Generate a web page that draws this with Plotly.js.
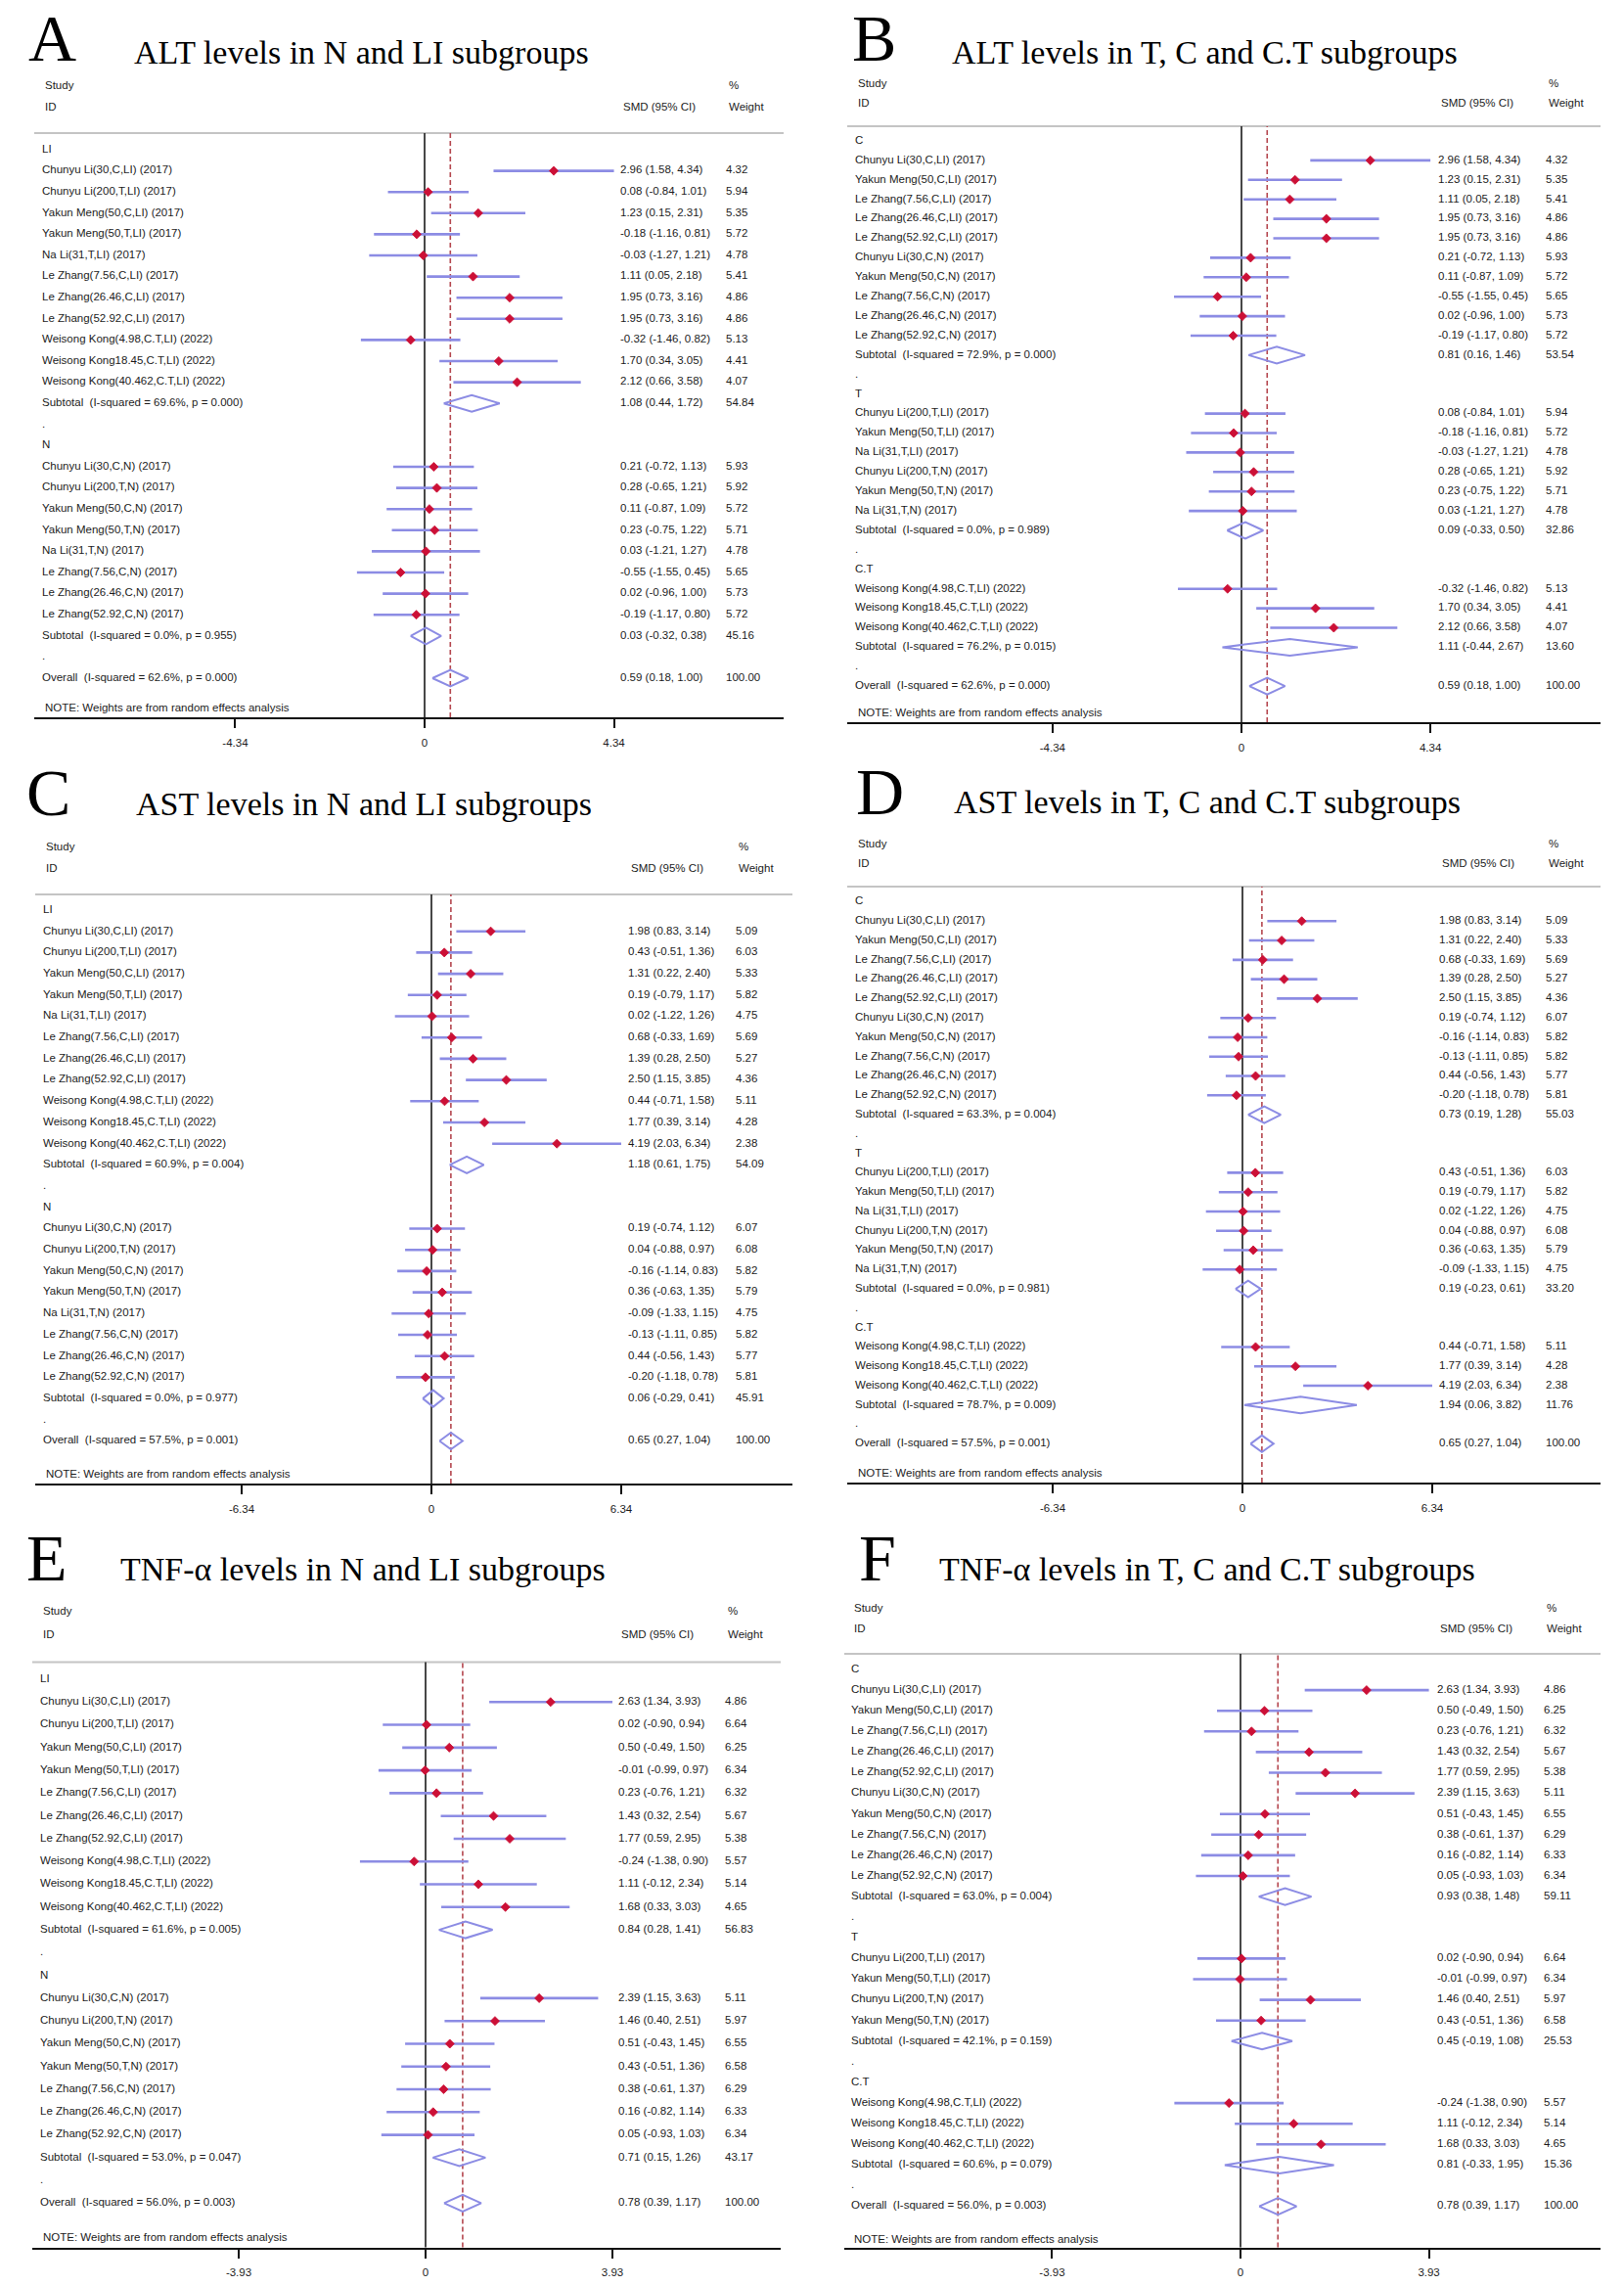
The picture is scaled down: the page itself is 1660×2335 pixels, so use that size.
<!DOCTYPE html>
<html><head><meta charset="utf-8">
<script src="https://cdn.plot.ly/plotly-3.0.1.min.js"></script>
<style>html,body{margin:0;padding:0;background:#fff}</style>
</head><body><div id="chart" style="width:1660px;height:2335px"></div>
<script>
// ================= DATA =================
const STUDY_19 = ["Chunyu Li(30,C,LI) (2017)","Chunyu Li(200,T,LI) (2017)","Yakun Meng(50,C,LI) (2017)","Yakun Meng(50,T,LI) (2017)","Na Li(31,T,LI) (2017)","Le Zhang(7.56,C,LI) (2017)","Le Zhang(26.46,C,LI) (2017)","Le Zhang(52.92,C,LI) (2017)","Weisong Kong(4.98,C.T,LI) (2022)","Weisong Kong18.45,C.T,LI) (2022)","Weisong Kong(40.462,C.T,LI) (2022)","Chunyu Li(30,C,N) (2017)","Chunyu Li(200,T,N) (2017)","Yakun Meng(50,C,N) (2017)","Yakun Meng(50,T,N) (2017)","Na Li(31,T,N) (2017)","Le Zhang(7.56,C,N) (2017)","Le Zhang(26.46,C,N) (2017)","Le Zhang(52.92,C,N) (2017)"];
const LIVER_19 = ["LI","LI","LI","LI","LI","LI","LI","LI","LI","LI","LI","N","N","N","N","N","N","N","N"];
const TREAT_19 = ["C","T","C","T","T","C","C","C","C.T","C.T","C.T","C","T","C","T","T","C","C","C"];

const ALT_est = [2.96,0.08,1.23,-0.18,-0.03,1.11,1.95,1.95,-0.32,1.70,2.12,0.21,0.28,0.11,0.23,0.03,-0.55,0.02,-0.19];
const ALT_lo  = [1.58,-0.84,0.15,-1.16,-1.27,0.05,0.73,0.73,-1.46,0.34,0.66,-0.72,-0.65,-0.87,-0.75,-1.21,-1.55,-0.96,-1.17];
const ALT_hi  = [4.34,1.01,2.31,0.81,1.21,2.18,3.16,3.16,0.82,3.05,3.58,1.13,1.21,1.09,1.22,1.27,0.45,1.00,0.80];
const ALT_wt  = [4.32,5.94,5.35,5.72,4.78,5.41,4.86,4.86,5.13,4.41,4.07,5.93,5.92,5.72,5.71,4.78,5.65,5.73,5.72];
const ALT_overall = [0.59,0.18,1.00,"62.6","0.000"];
const ALT_tick = 4.34;

const AST_est = [1.98,0.43,1.31,0.19,0.02,0.68,1.39,2.50,0.44,1.77,4.19,0.19,0.04,-0.16,0.36,-0.09,-0.13,0.44,-0.20];
const AST_lo  = [0.83,-0.51,0.22,-0.79,-1.22,-0.33,0.28,1.15,-0.71,0.39,2.03,-0.74,-0.88,-1.14,-0.63,-1.33,-1.11,-0.56,-1.18];
const AST_hi  = [3.14,1.36,2.40,1.17,1.26,1.69,2.50,3.85,1.58,3.14,6.34,1.12,0.97,0.83,1.35,1.15,0.85,1.43,0.78];
const AST_wt  = [5.09,6.03,5.33,5.82,4.75,5.69,5.27,4.36,5.11,4.28,2.38,6.07,6.08,5.82,5.79,4.75,5.82,5.77,5.81];
const AST_overall = [0.65,0.27,1.04,"57.5","0.001"];
const AST_tick = 6.34;

const STUDY_17 = ["Chunyu Li(30,C,LI) (2017)","Chunyu Li(200,T,LI) (2017)","Yakun Meng(50,C,LI) (2017)","Yakun Meng(50,T,LI) (2017)","Le Zhang(7.56,C,LI) (2017)","Le Zhang(26.46,C,LI) (2017)","Le Zhang(52.92,C,LI) (2017)","Weisong Kong(4.98,C.T,LI) (2022)","Weisong Kong18.45,C.T,LI) (2022)","Weisong Kong(40.462,C.T,LI) (2022)","Chunyu Li(30,C,N) (2017)","Chunyu Li(200,T,N) (2017)","Yakun Meng(50,C,N) (2017)","Yakun Meng(50,T,N) (2017)","Le Zhang(7.56,C,N) (2017)","Le Zhang(26.46,C,N) (2017)","Le Zhang(52.92,C,N) (2017)"];
const LIVER_17 = ["LI","LI","LI","LI","LI","LI","LI","LI","LI","LI","N","N","N","N","N","N","N"];
const TREAT_17 = ["C","T","C","T","C","C","C","C.T","C.T","C.T","C","T","C","T","C","C","C"];
const TNF_est = [2.63,0.02,0.50,-0.01,0.23,1.43,1.77,-0.24,1.11,1.68,2.39,1.46,0.51,0.43,0.38,0.16,0.05];
const TNF_lo  = [1.34,-0.90,-0.49,-0.99,-0.76,0.32,0.59,-1.38,-0.12,0.33,1.15,0.40,-0.43,-0.51,-0.61,-0.82,-0.93];
const TNF_hi  = [3.93,0.94,1.50,0.97,1.21,2.54,2.95,0.90,2.34,3.03,3.63,2.51,1.45,1.36,1.37,1.14,1.03];
const TNF_wt  = [4.86,6.64,6.25,6.34,6.32,5.67,5.38,5.57,5.14,4.65,5.11,5.97,6.55,6.58,6.29,6.33,6.34];
const TNF_overall = [0.78,0.39,1.17,"56.0","0.003"];
const TNF_tick = 3.93;

// subgroup summaries
const A_groups = ["LI","N"];
const A_sub_est = [1.08,0.03], A_sub_lo = [0.44,-0.32], A_sub_hi = [1.72,0.38], A_sub_wt = [54.84,45.16];
const A_sub_isq = ["69.6","0.0"], A_sub_p = ["0.000","0.955"];

const B_groups = ["C","T","C.T"];
const B_sub_est = [0.81,0.09,1.11], B_sub_lo = [0.16,-0.33,-0.44], B_sub_hi = [1.46,0.50,2.67], B_sub_wt = [53.54,32.86,13.60];
const B_sub_isq = ["72.9","0.0","76.2"], B_sub_p = ["0.000","0.989","0.015"];

const C_groups = ["LI","N"];
const C_sub_est = [1.18,0.06], C_sub_lo = [0.61,-0.29], C_sub_hi = [1.75,0.41], C_sub_wt = [54.09,45.91];
const C_sub_isq = ["60.9","0.0"], C_sub_p = ["0.004","0.977"];

const D_groups = ["C","T","C.T"];
const D_sub_est = [0.73,0.19,1.94], D_sub_lo = [0.19,-0.23,0.06], D_sub_hi = [1.28,0.61,3.82], D_sub_wt = [55.03,33.20,11.76];
const D_sub_isq = ["63.3","0.0","78.7"], D_sub_p = ["0.004","0.981","0.009"];

const E_groups = ["LI","N"];
const E_sub_est = [0.84,0.71], E_sub_lo = [0.28,0.15], E_sub_hi = [1.41,1.26], E_sub_wt = [56.83,43.17];
const E_sub_isq = ["61.6","53.0"], E_sub_p = ["0.005","0.047"];

const F_groups = ["C","T","C.T"];
const F_sub_est = [0.93,0.45,0.81], F_sub_lo = [0.38,-0.19,-0.33], F_sub_hi = [1.48,1.08,1.95], F_sub_wt = [59.11,25.53,15.36];
const F_sub_isq = ["63.0","42.1","60.6"], F_sub_p = ["0.004","0.159","0.079"];

const TITLES = ["ALT levels in N and LI subgroups","ALT levels in T, C and C.T subgroups","AST levels in N and LI subgroups","AST levels in T, C and C.T subgroups","TNF-α levels in N and LI subgroups","TNF-α levels in T, C and C.T subgroups"];
const LETTERS = ["A","B","C","D","E","F"];

// ================= LAYOUT (pixel positions) =================
const W = 1660, H = 2335;
const POS = [
 {lx:29, lb:53, tx:137, tb:65, zero:434, ppu:44.6, gL:35, gR:801, gY:136, row0:153, step:21.6, axisY:733, noteY:723, studyX:46, smdX:637, wtX:745, h1:87, h2:109},
 {lx:871, lb:53, tx:973, tb:65, zero:1269, ppu:44.5, gL:866, gR:1636, gY:129, row0:144, step:19.9, axisY:738, noteY:728, studyX:877, smdX:1473, wtX:1583, h1:85, h2:105},
 {lx:27, lb:833, tx:139, tb:833, zero:441, ppu:30.6, gL:36, gR:810, gY:914, row0:930, step:21.7, axisY:1516, noteY:1506, studyX:47, smdX:645, wtX:755, h1:865, h2:887},
 {lx:875, lb:832, tx:975, tb:831, zero:1270, ppu:30.6, gL:866, gR:1636, gY:906, row0:921.5, step:19.78, axisY:1515, noteY:1505, studyX:877, smdX:1474, wtX:1583, h1:861.5, h2:882},
 {lx:27, lb:1615, tx:123, tb:1615, zero:435, ppu:48.6, gL:33, gR:798, gY:1698.5, row0:1716, step:23.28, axisY:2296.5, noteY:2285.5, studyX:44, smdX:635, wtX:744, h1:1646, h2:1669.5},
 {lx:878, lb:1615, tx:960, tb:1615, zero:1268, ppu:49.0, gL:863, gR:1636, gY:1690, row0:1706, step:21.1, axisY:2296.5, noteY:2287.5, studyX:873, smdX:1472, wtX:1581, h1:1642.5, h2:1664}
];

const SANS = '"Liberation Sans", Arial, sans-serif';
const SERIF = '"Liberation Serif", "Times New Roman", serif';
const FS = 11.5, LETTER_FS = 68, TITLE_FS = 34;
const COL_TXT = '#1c1c1c', COL_CI = '#8c8ce4', COL_PT = '#cc1036', COL_DASH = '#b5474f';

const outcomes = {
  ALT: {study:STUDY_19, liver:LIVER_19, treat:TREAT_19, est:ALT_est, lo:ALT_lo, hi:ALT_hi, wt:ALT_wt, overall:ALT_overall, tick:ALT_tick},
  AST: {study:STUDY_19, liver:LIVER_19, treat:TREAT_19, est:AST_est, lo:AST_lo, hi:AST_hi, wt:AST_wt, overall:AST_overall, tick:AST_tick},
  TNF: {study:STUDY_17, liver:LIVER_17, treat:TREAT_17, est:TNF_est, lo:TNF_lo, hi:TNF_hi, wt:TNF_wt, overall:TNF_overall, tick:TNF_tick}
};
const panels = [
  {o:'ALT', by:'liver', groups:A_groups, s:[A_sub_est,A_sub_lo,A_sub_hi,A_sub_wt,A_sub_isq,A_sub_p]},
  {o:'ALT', by:'treat', groups:B_groups, s:[B_sub_est,B_sub_lo,B_sub_hi,B_sub_wt,B_sub_isq,B_sub_p]},
  {o:'AST', by:'liver', groups:C_groups, s:[C_sub_est,C_sub_lo,C_sub_hi,C_sub_wt,C_sub_isq,C_sub_p]},
  {o:'AST', by:'treat', groups:D_groups, s:[D_sub_est,D_sub_lo,D_sub_hi,D_sub_wt,D_sub_isq,D_sub_p]},
  {o:'TNF', by:'liver', groups:E_groups, s:[E_sub_est,E_sub_lo,E_sub_hi,E_sub_wt,E_sub_isq,E_sub_p]},
  {o:'TNF', by:'treat', groups:F_groups, s:[F_sub_est,F_sub_lo,F_sub_hi,F_sub_wt,F_sub_isq,F_sub_p]}
];

const f2 = v => v.toFixed(2);
const ciText = (e,l,h) => f2(e)+' ('+f2(l)+', '+f2(h)+')';
const px2x = px => px / W;
const py2y = py => 1 - py / H;

const traces = [], annotations = [], shapes = [];
const layout = {width:W, height:H, margin:{l:0,r:0,t:0,b:0}, paper_bgcolor:'#fff', plot_bgcolor:'rgba(0,0,0,0)', showlegend:false, font:{family:SANS, size:FS, color:COL_TXT}};

panels.forEach((pn, pi) => {
  const P = POS[pi];
  const O = outcomes[pn.o];
  const k = pi + 1;
  const xn = k === 1 ? 'x' : 'x' + k, yn = k === 1 ? 'y' : 'y' + k;
  const xk = k === 1 ? 'xaxis' : 'xaxis' + k, yk = k === 1 ? 'yaxis' : 'yaxis' + k;

  // ---- rows
  const items = [];
  let r = 0;
  pn.groups.forEach((g, gi) => {
    items.push({kind:'head', text:g, row:r}); r++;
    O.study.forEach((s, i) => {
      if (O[pn.by][i] === g) { items.push({kind:'study', text:s, est:O.est[i], lo:O.lo[i], hi:O.hi[i], wt:O.wt[i], row:r}); r++; }
    });
    items.push({kind:'sub', text:'Subtotal\u00a0\u00a0(I-squared = '+pn.s[4][gi]+'%, p = '+pn.s[5][gi]+')', est:pn.s[0][gi], lo:pn.s[1][gi], hi:pn.s[2][gi], wt:pn.s[3][gi], row:r}); r++;
    items.push({kind:'dot', text:'.', row:r}); r++;
  });
  const ov = O.overall;
  items.push({kind:'sub', text:'Overall\u00a0\u00a0(I-squared = '+ov[3]+'%, p = '+ov[4]+')', est:ov[0], lo:ov[1], hi:ov[2], wt:100, row:r});

  // ---- axes
  const toRow = py => (py - P.row0) / P.step;
  layout[xk] = {domain:[px2x(P.gL), px2x(P.gR)], anchor:yn, range:[(P.gL-P.zero)/P.ppu, (P.gR-P.zero)/P.ppu],
    showgrid:false, zeroline:false, showline:true, linecolor:'#111', linewidth:2,
    ticks:'outside', ticklen:9, tickwidth:2, tickcolor:'#111', tickmode:'array',
    tickvals:[-O.tick, 0, O.tick], ticktext:['-'+O.tick.toFixed(2), '0', O.tick.toFixed(2)],
    tickfont:{family:SANS, size:FS, color:COL_TXT}, ticklabelstandoff:5, fixedrange:true};
  layout[yk] = {domain:[py2y(P.axisY), py2y(P.gY)], anchor:xn, range:[toRow(P.axisY), toRow(P.gY)], visible:false, fixedrange:true};

  // ---- CI lines
  const st = items.filter(d => d.kind === 'study');
  const cx = [], cy = [];
  st.forEach(d => { cx.push(d.lo, d.hi, null); cy.push(d.row, d.row, null); });
  traces.push({type:'scatter', mode:'lines', x:cx, y:cy, xaxis:xn, yaxis:yn, line:{color:COL_CI, width:2.6}, hoverinfo:'skip', cliponaxis:false});
  // ---- point estimates
  traces.push({type:'scatter', mode:'markers', x:st.map(d=>d.est), y:st.map(d=>d.row), xaxis:xn, yaxis:yn,
    marker:{symbol:'diamond', size:7, color:COL_PT, line:{color:COL_PT, width:0.8}}, hoverinfo:'skip', cliponaxis:false});
  // ---- pooled diamonds
  const hh = 8.5 / P.step;
  const dx = [], dy = [];
  items.filter(d => d.kind === 'sub').forEach(d => {
    dx.push(d.lo, d.est, d.hi, d.est, d.lo, null);
    dy.push(d.row, d.row - hh, d.row, d.row + hh, d.row, null);
  });
  traces.push({type:'scatter', mode:'lines', x:dx, y:dy, xaxis:xn, yaxis:yn, line:{color:COL_CI, width:2}, hoverinfo:'skip', cliponaxis:false});

  // ---- text columns
  const colX = px => (px - 3 - P.zero) / P.ppu;
  const txtTrace = (list, px, getter) => ({type:'scatter', mode:'text', x:list.map(()=>colX(px)), y:list.map(d=>d.row),
    text:list.map(getter), textposition:'middle right', textfont:{family:SANS, size:FS, color:COL_TXT},
    xaxis:xn, yaxis:yn, hoverinfo:'skip', cliponaxis:false});
  traces.push(txtTrace(items, P.studyX, d => d.text));
  const num = items.filter(d => d.kind === 'study' || d.kind === 'sub');
  traces.push(txtTrace(num, P.smdX, d => ciText(d.est, d.lo, d.hi)));
  traces.push(txtTrace(num, P.wtX, d => f2(d.wt)));

  // ---- reference lines
  shapes.push({type:'line', layer:'below', xref:xn+' domain', yref:yn+' domain', x0:0, x1:1, y0:1, y1:1, line:{color:'#c4c4c4', width:2.2}});
  shapes.push({type:'line', layer:'below', xref:xn, yref:yn+' domain', x0:0, x1:0, y0:0, y1:1, line:{color:'#333', width:1.8}});
  shapes.push({type:'line', layer:'below', xref:xn, yref:yn+' domain', x0:ov[0], x1:ov[0], y0:0, y1:1, line:{color:COL_DASH, width:1.6, dash:'5px,3px'}});

  // ---- labels
  const ann = (text, px, py, font, size) => annotations.push({text, xref:'paper', yref:'paper', x:px2x(px), y:py2y(py), xanchor:'left', yanchor:'middle', showarrow:false, font:{family:font, size:size, color:font===SERIF?'#000':COL_TXT}});
  const letterMid = Math.max(P.lb - 0.3375*LETTER_FS, 0.56*LETTER_FS + 1);
  ann(LETTERS[pi], P.lx - 2, letterMid, SERIF, LETTER_FS);
  ann(TITLES[pi], P.tx - 2, P.tb - 0.3375*TITLE_FS, SERIF, TITLE_FS);
  ann('Study', P.studyX - 2, P.h1, SANS, FS);
  ann('ID', P.studyX - 2, P.h2, SANS, FS);
  ann('SMD (95% CI)', P.smdX - 2, P.h2, SANS, FS);
  ann('%', P.wtX - 2, P.h1, SANS, FS);
  ann('Weight', P.wtX - 2, P.h2, SANS, FS);
  ann('NOTE: Weights are from random effects analysis', P.studyX - 2, P.noteY, SANS, FS);
});

layout.annotations = annotations;
layout.shapes = shapes;
Plotly.newPlot('chart', traces, layout, {staticPlot:true, displayModeBar:false});
</script>
</body></html>
